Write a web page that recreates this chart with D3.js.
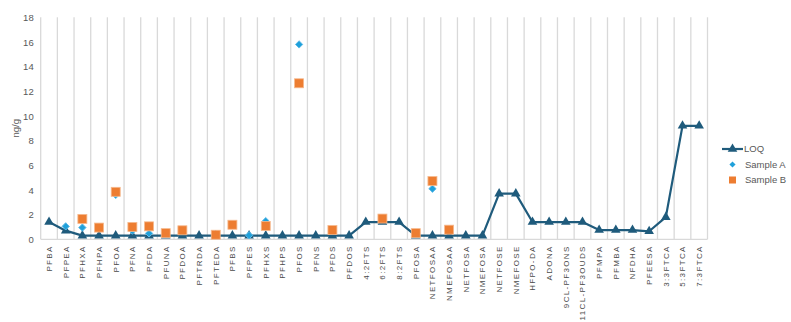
<!DOCTYPE html>
<html><head><meta charset="utf-8">
<script src="https://cdn.jsdelivr.net/npm/d3@7"></script>
<style>body{margin:0;background:#fff}svg{display:block}</style>
</head><body>
<svg id="c" width="791" height="322"></svg>
<script>
const categories = ["PFBA","PFPEA","PFHXA","PFHPA","PFOA","PFNA","PFDA","PFUNA","PFDOA","PFTRDA","PFTEDA","PFBS","PFPES","PFHXS","PFHPS","PFOS","PFNS","PFDS","PFDOS","4:2FTS","6:2FTS","8:2FTS","PFOSA","NETFOSAA","NMEFOSAA","NETFOSA","NMEFOSA","NETFOSE","NMEFOSE","HFPO-DA","ADONA","9CL-PF3ONS","11CL-PF3OUDS","PFMPA","PFMBA","NFDHA","PFEESA","3:3FTCA","5:3FTCA","7:3FTCA"];
const loq = [1.4,0.7,0.3,0.3,0.3,0.3,0.3,0.3,0.3,0.3,0.3,0.3,0.3,0.3,0.3,0.3,0.3,0.3,0.3,1.4,1.4,1.4,0.3,0.3,0.3,0.3,0.3,3.7,3.7,1.4,1.4,1.4,1.4,0.75,0.75,0.75,0.65,1.8,9.2,9.2];
const sampleA = [null,1.05,0.95,null,3.6,0.7,0.48,null,null,null,null,null,0.33,1.47,null,15.8,null,null,null,null,null,null,null,4.1,null,null,null,null,null,null,null,null,null,null,null,null,null,null,null,null];
const sampleB = [null,null,1.65,0.95,3.85,1.0,1.05,0.5,0.73,null,0.37,1.18,null,1.08,null,12.65,null,0.75,null,null,1.68,null,0.5,4.72,0.78,null,null,null,null,null,null,null,null,null,null,null,null,null,null,null];
const yTicks = [0,2,4,6,8,10,12,14,16,18];

(function(){
const svg = d3.select("#c");
const mL = 40.7, mR = 707.5, mT = 17.3, mB = 239.3;
const x = d3.scaleBand().domain(categories).range([mL, mR]).padding(0);
const y = d3.scaleLinear().domain([0,18]).range([mB, mT]);
const cx = c => x(c) + x.bandwidth()/2;
const grey = "#595959";
const LOQC = "#1f5b7c", AC = "#1fa0da", BC = "#ed7d31";
const FF = "Liberation Sans, Arial, sans-serif";

const bounds = categories.map(c => x(c)).concat([mR]);
svg.append("g").selectAll("line").data(bounds).join("line")
  .attr("x1", d => d).attr("x2", d => d).attr("y1", mT).attr("y2", mB)
  .attr("stroke", "#d9d9d9").attr("stroke-width", 1.3);
svg.append("line").attr("x1", mL).attr("x2", mR).attr("y1", mB).attr("y2", mB)
  .attr("stroke", "#d9d9d9").attr("stroke-width", 1.3);

const ya = svg.append("g").attr("transform", `translate(${mL-7},0)`)
  .call(d3.axisLeft(y).tickValues(yTicks).tickSize(0).tickPadding(0));
ya.select(".domain").remove();
ya.selectAll("text").attr("fill", grey).style("font-family", FF).style("font-size", "9.5px");

svg.append("text").attr("transform", `translate(19,${(mT+mB)/2}) rotate(-90)`)
  .attr("text-anchor", "middle").attr("fill", grey)
  .style("font-family", FF).style("font-size", "9.5px").text("ng/g");

const xa = svg.append("g").attr("transform", `translate(0,${mB})`)
  .call(d3.axisBottom(x).tickSize(0).tickPadding(0));
xa.select(".domain").remove();
xa.selectAll("text")
  .attr("transform", "rotate(-90)")
  .attr("text-anchor", "end").attr("x", -6).attr("y", 0).attr("dy", "0.36em")
  .attr("fill", "#4a4a4a")
  .style("font-family", FF).style("font-size", "8px")
  .style("letter-spacing", "1.35px");

const line = d3.line().x((d,i) => cx(categories[i])).y(d => y(d));
svg.append("path").datum(loq).attr("d", line).attr("fill", "none")
  .attr("stroke", LOQC).attr("stroke-width", 2.2).attr("stroke-linejoin", "round");
const tri = d3.symbol().type(d3.symbolTriangle).size(40);
svg.append("g").selectAll("path").data(loq).join("path")
  .attr("d", tri).attr("fill", LOQC)
  .attr("transform", (d,i) => `translate(${cx(categories[i])},${y(d)})`);

const dia = d3.symbol().type(d3.symbolDiamond2).size(34);
svg.append("g").selectAll("path").data(sampleA.map((v,i)=>[v,i]).filter(d=>d[0]!=null)).join("path")
  .attr("d", dia).attr("fill", AC).attr("stroke", "#5fbbe8").attr("stroke-width", 1).attr("stroke-linejoin", "round")
  .attr("transform", d => `translate(${cx(categories[d[1]])},${y(d[0])})`);

svg.append("g").selectAll("rect").data(sampleB.map((v,i)=>[v,i]).filter(d=>d[0]!=null)).join("rect")
  .attr("x", d => cx(categories[d[1]]) - 4.5).attr("y", d => y(d[0]) - 4.5)
  .attr("width", 9).attr("height", 9).attr("fill", BC)
  .attr("stroke", "#f6b98d").attr("stroke-width", 0.8);

const lg = svg.append("g").style("font-family", FF).style("font-size", "9.5px");
lg.append("line").attr("x1", 722).attr("x2", 743).attr("y1", 149).attr("y2", 149).attr("stroke", LOQC).attr("stroke-width", 2.2);
lg.append("path").attr("d", tri).attr("fill", LOQC).attr("transform", "translate(732.5,149)");
lg.append("text").attr("x", 744).attr("y", 149).attr("dy", "0.35em").attr("fill", grey).text("LOQ");
lg.append("path").attr("d", d3.symbol().type(d3.symbolDiamond2).size(24)).attr("fill", AC).attr("transform", "translate(732.5,164.5)");
lg.append("text").attr("x", 745).attr("y", 164.5).attr("dy", "0.35em").attr("fill", grey).text("Sample A");
lg.append("rect").attr("x", 729).attr("y", 176.5).attr("width", 7).attr("height", 7).attr("fill", BC);
lg.append("text").attr("x", 745).attr("y", 180).attr("dy", "0.35em").attr("fill", grey).text("Sample B");
})();
</script>
</body></html>
